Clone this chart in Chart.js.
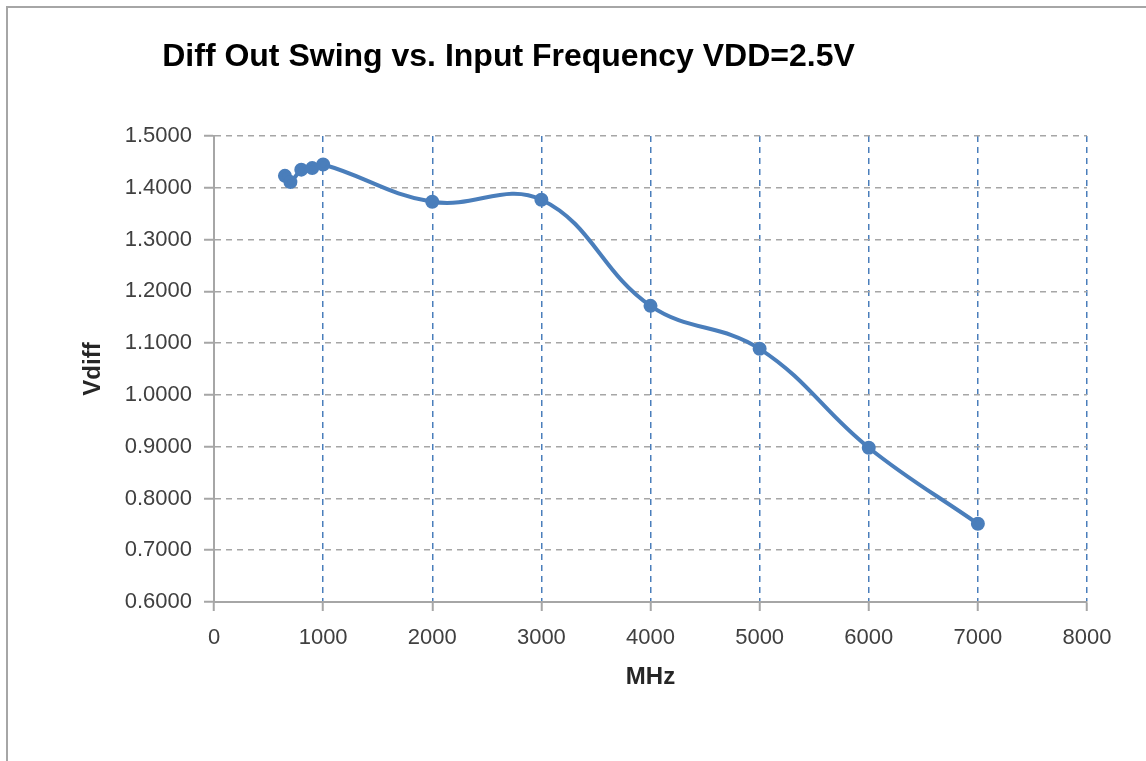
<!DOCTYPE html>
<html>
<head>
<meta charset="utf-8">
<script src="https://cdn.jsdelivr.net/npm/chart.js@4/dist/chart.umd.min.js"></script>
<style>
  html, body { margin: 0; padding: 0; background: #fff; overflow: hidden; }
  #wrap { position: relative; width: 1146px; height: 761px; overflow: hidden; }
  #frame {
    position: absolute; left: 6px; top: 6px; width: 1300px; height: 900px;
    border-top: 2px solid #a6a6a6; border-left: 2px solid #a6a6a6;
  }
  #swingChart { position: absolute; left: -70px; top: 0; }
</style>
</head>
<body>
<div id="wrap">
  <div id="frame"></div>
  <canvas id="swingChart" width="1216" height="761"></canvas>
</div>
<script>
// input frequency (MHz) and differential output swing (V)
const freqMHz = [650, 700, 800, 900, 1000, 2000, 3000, 4000, 5000, 6000, 7000];
const vdiff = [1.423, 1.411, 1.435, 1.438, 1.445, 1.373, 1.377, 1.172, 1.089, 0.898, 0.751];

const xTicks = [0, 1000, 2000, 3000, 4000, 5000, 6000, 7000, 8000];
const yTicks = [0.6, 0.7, 0.8, 0.9, 1.0, 1.1, 1.2, 1.3, 1.4, 1.5];

const lineBlue = '#4a7ebb';
const axisGray = '#a6a6a6';
const fontFam = '"Liberation Sans", Arial, sans-serif';

const ctx = document.getElementById('swingChart').getContext('2d');
new Chart(ctx, {
    type: 'scatter',
    data: {
        datasets: [{
            label: 'Vdiff',
            data: freqMHz.map((f, i) => ({ x: f, y: vdiff[i] })),
            showLine: true,
            tension: 0.4,
            borderColor: lineBlue,
            backgroundColor: lineBlue,
            borderWidth: 4,
            pointRadius: 5,
            pointHoverRadius: 5
        }]
    },
    options: {
        responsive: false,
        animation: false,
        layout: {
            padding: { left: 0, right: 59, top: 0, bottom: 0 }
        },
        plugins: {
            legend: { display: false },
            tooltip: { enabled: false },
            title: {
                display: true,
                text: 'Diff Out Swing vs. Input Frequency VDD=2.5V',
                color: '#000',
                font: { family: fontFam, size: 32, weight: 'bold' },
                padding: { top: 38, bottom: 59.6 }
            }
        },
        scales: {
            x: {
                type: 'linear',
                min: 0,
                max: 8000,
                afterBuildTicks: scale => { scale.ticks = xTicks.map(v => ({ value: v })); },
                afterFit: scale => { scale.height = 159; },
                ticks: {
                    color: '#404040',
                    padding: 14,
                    font: { family: fontFam, size: 22 },
                    maxRotation: 0,
                    callback: v => String(v)
                },
                grid: {
                    color: c => (c.tick && c.tick.value === 0) ? 'rgba(0,0,0,0)' : lineBlue,
                    lineWidth: 1.5,
                    tickColor: axisGray,
                    tickLength: 9,
                    tickWidth: 2,
                    tickBorderDash: []
                },
                border: { display: true, color: axisGray, width: 2, dash: [6, 5] },
                title: {
                    display: true,
                    text: 'MHz',
                    color: '#262626',
                    font: { family: fontFam, size: 24, weight: 'bold' },
                    padding: { top: 0, bottom: 69 }
                }
            },
            y: {
                type: 'linear',
                min: 0.6,
                max: 1.5,
                afterBuildTicks: scale => { scale.ticks = yTicks.map(v => ({ value: v })); },
                afterFit: scale => { scale.width = 284; },
                ticks: {
                    color: '#404040',
                    padding: 12,
                    font: { family: fontFam, size: 22 },
                    callback: v => v.toFixed(4)
                },
                grid: {
                    color: c => (c.tick && c.tick.value === 0.6) ? 'rgba(0,0,0,0)' : axisGray,
                    lineWidth: 1.5,
                    tickColor: axisGray,
                    tickLength: 10,
                    tickWidth: 2,
                    tickBorderDash: []
                },
                border: { display: true, color: axisGray, width: 2, dash: [6, 5] },
                title: {
                    display: true,
                    text: 'Vdiff',
                    color: '#262626',
                    font: { family: fontFam, size: 24, weight: 'bold' },
                    padding: { top: 149, bottom: 0 }
                }
            }
        }
    }
});
</script>
</body>
</html>
